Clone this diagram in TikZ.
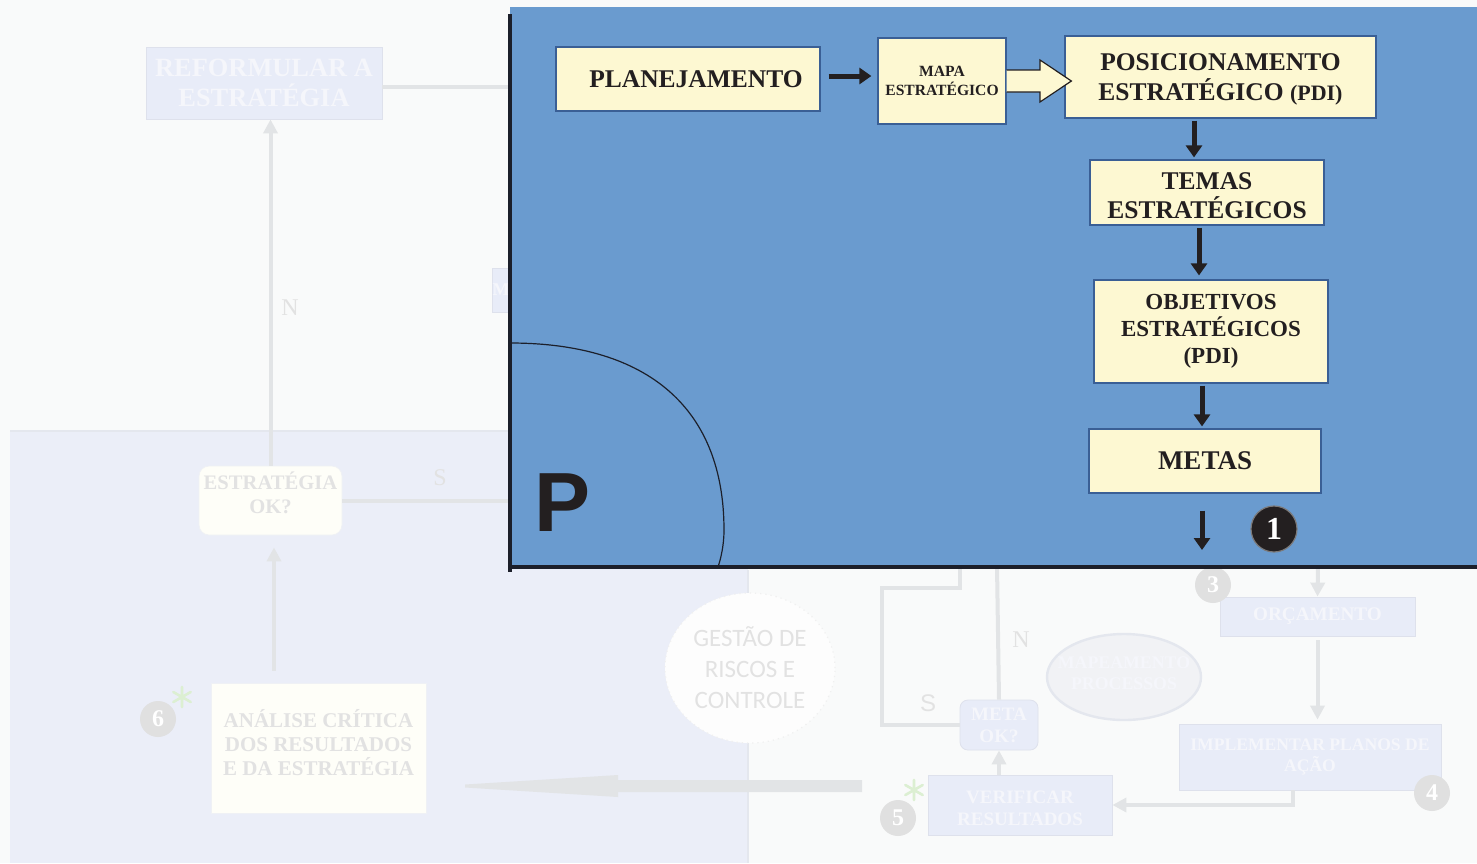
\documentclass[tikz,border=0pt]{standalone}
\usepackage{fontspec}
\setmainfont{Liberation Serif}
\newfontfamily\sansf{Liberation Sans}
\newfontfamily\carl{Carlito}
\usetikzlibrary{arrows.meta,shapes.geometric}
\definecolor{bgw}{HTML}{F9FAFA}
\definecolor{lav}{HTML}{EBEEF8}
\definecolor{lavline}{HTML}{E4E7EE}
\definecolor{fbox}{HTML}{E8ECF8}
\definecolor{ftxt}{HTML}{F5F6FB}
\definecolor{cream}{HTML}{FEFEF8}
\definecolor{gtxt}{HTML}{E2E2E2}
\definecolor{conn}{HTML}{E2E4E6}
\definecolor{circ}{HTML}{E0E0E0}
\definecolor{fgreen}{HTML}{DCEFD2}
\definecolor{panel}{HTML}{6A9BCF}
\definecolor{yel}{HTML}{FDF8D2}
\definecolor{ybord}{HTML}{3A5F95}
\definecolor{txt}{HTML}{231F20}
\definecolor{pline}{HTML}{1C1F2A}
\tikzset{
  fadebox/.style={fill=fbox, draw=fbox!90!gray, line width=0.4pt, align=center, text=ftxt, inner sep=0pt, font=\bfseries},
  creambox/.style={fill=cream, draw=lavline!60, line width=0.4pt, align=center, text=gtxt, inner sep=0pt, font=\bfseries},
  plaintext/.style={align=center, inner sep=0pt},
  fcirc/.style={circle, fill=circ, text=white, inner sep=0pt, minimum size=18pt, font=\bfseries\fontsize{12}{12}\selectfont},
  fconn/.style={draw=conn, line width=2pt},
  farrow/.style={fconn, -{Triangle[width=7pt,length=7pt]}},
  flabel/.style={text=gtxt, font=\fontsize{12}{12}\selectfont},
  ybox/.style={draw=ybord, fill=yel, line width=0.6pt, align=center, text=txt, inner sep=0pt, font=\bfseries},
  blk/.style={draw=txt, line width=2.5pt, -{Triangle[width=8pt,length=6pt]}},
  astk/.style={draw=fgreen, line width=1.3pt, line cap=round},
}
\begin{document}
\begin{tikzpicture}[x=0.5pt,y=-0.5pt]
\useasboundingbox (0,0) rectangle (1477,863);
\fill[bgw] (0,0) rectangle (1477,863);
\fill[lav] (10,431) rectangle (748,863);
\draw[lavline, line width=1.2pt] (10,431) -- (748,431);
\draw[lavline, line width=0.8pt] (748,570) -- (748,863);

% ---------- faded background flowchart ----------
\node[fadebox, minimum width=118pt, minimum height=36pt, font=\bfseries\fontsize{13.2}{15}\selectfont] (reform) at (264,83) {REFORMULAR A\\ESTRATÉGIA};
\node[fadebox, minimum width=14pt, minimum height=22pt, font=\bfseries\fontsize{9}{9}\selectfont] (mbox) at (507,290) {M\phantom{E}};
\node[creambox, rounded corners=5pt, minimum width=71.5pt, minimum height=34.5pt] (estok) at (270.5,500.5) {};
\node[plaintext, text=gtxt, font=\bfseries\fontsize{10.3}{12}\selectfont] (estokT) at ([yshift=4pt]estok.center) {ESTRATÉGIA\\OK?};
\node[creambox, minimum width=107.5pt, minimum height=65pt] (anal) at (318.5,748) {};
\node[plaintext, text=gtxt, font=\bfseries\fontsize{10.5}{12}\selectfont] (analT) at ([yshift=2.5pt]anal.center) {ANÁLISE CRÍTICA\\DOS RESULTADOS\\E DA ESTRATÉGIA};
\node[fcirc] (c6) at (158,719) {6};
\draw[astk] (182,687) -- (182,707) (173.3,692) -- (190.7,702) (173.3,702) -- (190.7,692);

\node[ellipse, minimum width=85pt, minimum height=75pt, fill=white!60!bgw, draw=gtxt!50, dotted, line width=0.6pt, inner sep=0pt] (gest) at (750,668) {};
\node[plaintext, text=gtxt, font=\carl\fontsize{12.5}{15.5}\selectfont] (gestT) at (gest.center) {GESTÃO DE\\RISCOS E\\CONTROLE};

\node[fadebox, rounded corners=4pt, minimum width=39pt, minimum height=25pt, font=\bfseries\fontsize{9.5}{11}\selectfont] (metaok) at (999,725) {META\\OK?};
\node[fadebox, minimum width=92pt, minimum height=30pt] (verif) at (1020,805) {};
\node[plaintext, text=ftxt, font=\bfseries\fontsize{9.5}{11}\selectfont] (verifT) at ([yshift=-1.5pt]verif.center) {VERIFICAR\\RESULTADOS};
\node[fcirc] (c5) at (898,818) {5};
\draw[astk] (914,780) -- (914,800) (905.3,785) -- (922.7,795) (905.3,795) -- (922.7,785);

\node[ellipse, minimum width=77pt, minimum height=43pt, fill=lavline!40!bgw, draw=lavline, line width=1.2pt, inner sep=0pt] (mapeam) at (1124,677) {};
\node[plaintext, text=ftxt, font=\bfseries\fontsize{8.9}{10.5}\selectfont] (mapeamT) at ([yshift=2pt]mapeam.center) {MAPEAMENTO\\PROCESSOS};

\node[fadebox, minimum width=97.5pt, minimum height=19.5pt, font=\bfseries\fontsize{9.6}{11}\selectfont] (orc) at (1317.5,616.5) {ORÇAMENTO};
\node[fcirc] (c3) at (1213,585) {3};
\node[fadebox, minimum width=131pt, minimum height=33pt, font=\bfseries\fontsize{8.8}{10.5}\selectfont] (impl) at (1310,757) {IMPLEMENTAR PLANOS DE\\AÇÃO};
\node[fcirc] (c4) at (1432,793) {4};

% faded connectors
\coordinate (pnlA) at (510,87);
\coordinate (bigS) at (862,786);
\coordinate (bigE) at (465,786);
\coordinate (nTop) at (997,566);
\coordinate (sTop) at (960,566);
\coordinate (oTop) at (1318,566);
\draw[farrow] (estok.north) -- (estok.north |- reform.south);
\node[flabel] (lN1) at (290,308) {N};
\draw[fconn] ([yshift=-2pt]reform.east) -- (pnlA);
\draw[fconn] (estok.east) -- (estok.east -| pnlA);
\node[flabel] (lS1) at (440,478) {S};
\draw[farrow, shorten <=6pt, shorten >=6pt] ([xshift=-22.25pt]anal.north) -- ([xshift=-22.25pt]anal.north |- estok.south);
\fill[conn] (bigS) ++(0,-6) -- (618,780) -- (618,775) -- ([yshift=0.75pt]bigE) -- ([yshift=-0.75pt]bigE) -- (618,797) -- (618,792) -- ([yshift=-3pt]bigS) -- cycle;
\draw[fconn] (metaok.north) -- (nTop);
\node[flabel] (lN2) at (1021,640) {N};
\draw[fconn] (metaok.west) -| (882,588) -- (960,588) -- (sTop);
\node[flabel, font=\sansf\fontsize{12}{12}\selectfont] (lS2) at (928,703) {S};
\draw[farrow] (metaok.south |- verif.north) -- (metaok.south);
\draw[farrow] (oTop) -- (orc.north);
\draw[farrow, shorten <=2pt, shorten >=2pt] (orc.south) -- (orc.south |- impl.north);
\draw[farrow] ([xshift=-8.5pt]impl.south) |- (verif.east);

% ---------- blue panel ----------
\fill[panel] (510,7) rectangle (1477,568);
\draw[pline, line width=0.6pt] (510,343) .. controls (650,343) and (724,410) .. (724,530) .. controls (724,545) and (721,558) .. (718,567);
\draw[pline, line width=2pt] (510,14) -- (510,572);
\draw[pline, line width=2pt] (509,567) -- (1477,567);
\node[text=txt, font=\sansf\bfseries\fontsize{42}{42}\selectfont, inner sep=0pt] (pletter) at (563,503) {P};

\node[ybox, minimum width=132pt, minimum height=32pt, font=\bfseries\fontsize{12.75}{15}\selectfont] (plan) at (688,79) {\hspace*{8pt}PLANEJAMENTO};
\node[ybox, minimum width=64pt, minimum height=43pt, font=\bfseries\fontsize{7.8}{9.5}\selectfont] (mapa) at (942,81) {MAPA\\ESTRATÉGICO};
\node[ybox, minimum width=155.5pt, minimum height=41pt] (posic) at (1220.5,77) {};
\node[plaintext, text=txt, font=\bfseries\fontsize{12.75}{15}\selectfont] (posicT) at ([yshift=-1.2pt]posic.center) {POSICIONAMENTO\\ESTRATÉGICO {\fontsize{11}{15}\selectfont(PDI)}};
\node[ybox, minimum width=117pt, minimum height=32.5pt] (temas) at (1207,192.5) {};
\node[plaintext, text=txt, font=\bfseries\fontsize{12.75}{14.5}\selectfont] (temasT) at ([yshift=-1.5pt]temas.center) {TEMAS\\ESTRATÉGICOS};
\node[ybox, minimum width=117pt, minimum height=51.5pt, font=\bfseries\fontsize{11.5}{13.5}\selectfont] (obj) at (1211,331.5) {OBJETIVOS\\ESTRATÉGICOS\\(PDI)};
\node[ybox, minimum width=116pt, minimum height=32pt, font=\bfseries\fontsize{13.5}{15}\selectfont] (metas) at (1205,461) {METAS};

\draw[blk, shorten <=4pt, shorten >=3pt] (plan.east |- 0,76) -- (mapa.west |- 0,76);
\draw[draw=txt, line width=0.6pt, fill=yel, line join=miter] (mapa.east |- 0,70) -- (1040,70) -- (1040,60) -- ([xshift=3.5pt]posic.west |- 0,81) -- (1040,102) -- (1040,92) -- (mapa.east |- 0,92);
\draw[blk, shorten <=1pt, shorten >=1pt] ([xshift=-13.25pt]posic.south) -- ([xshift=-13.25pt]posic.south |- temas.north);
\draw[blk, shorten <=1pt, shorten >=2pt] ([xshift=-4pt]temas.south) -- ([xshift=-4pt]temas.south |- obj.north);
\draw[blk, shorten <=1pt, shorten >=1pt] ([xshift=-4.5pt]obj.south) -- ([xshift=-4.5pt]obj.south |- metas.north);
\coordinate (mOut) at (1202,550);
\draw[blk] ([xshift=-1.5pt,yshift=-8.5pt]metas.south) -- (mOut);
\node[circle, fill=txt, draw=txt!60, line width=0.6pt, minimum size=23pt, inner sep=0pt, text=white, font=\bfseries\fontsize{16}{16}\selectfont] (c1) at (1274,529) {1};
\end{tikzpicture}
\end{document}
